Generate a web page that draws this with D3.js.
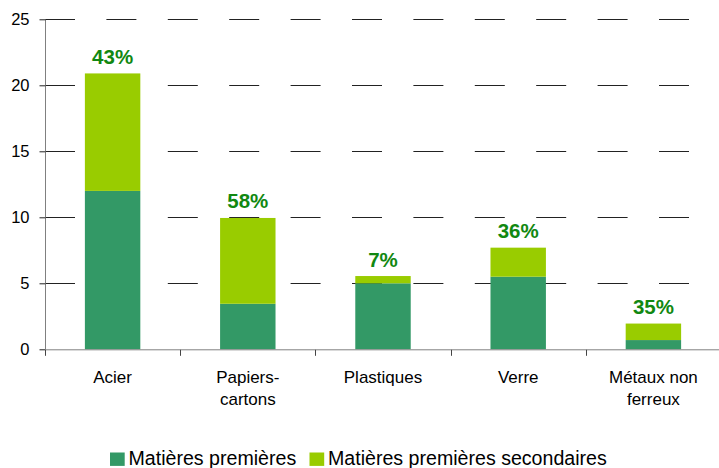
<!DOCTYPE html>
<html><head><meta charset="utf-8">
<script src="https://cdn.jsdelivr.net/npm/d3@7"></script>
<style>body{margin:0;background:#fff}svg{display:block;font-family:"Liberation Sans",Arial,sans-serif}</style>
</head><body><svg id="c" width="719" height="468"></svg>
<script>
const categories = [["Acier"], ["Papiers-", "cartons"], ["Plastiques"], ["Verre"], ["Métaux non", "ferreux"]];
const primaires = [12.0, 3.45, 5.0, 5.5, 0.7];
const secondaires = [8.9, 6.5, 0.55, 2.2, 1.25];
const pctLabels = ["43%", "58%", "7%", "36%", "35%"];
const yTicks = [0, 5, 10, 15, 20, 25];
const seriesNames = ["Matières premières", "Matières premières secondaires"];
const colors = ["#339966", "#99CC00"];

const svg = d3.select("#c");
const mLeft = 45, mRight = 721, mTop = 19.3, mBottom = 349.3;
const keys = categories.map((c, i) => i);
const x = d3.scaleBand().domain(keys).range([mLeft, mRight]).paddingInner(0.59).paddingOuter(0.295);
const y = d3.scaleLinear().domain([0, 25]).range([mBottom, mTop]);

// gridlines
svg.append("g").selectAll("line").data(yTicks.filter(t => t > 0)).join("line")
  .attr("x1", mLeft).attr("x2", mRight)
  .attr("y1", d => Math.round(y(d)) + 0.5).attr("y2", d => Math.round(y(d)) + 0.5)
  .attr("stroke", "#222").attr("stroke-width", 1).attr("stroke-dasharray", "30,31.4");

// bars
const data = keys.map(i => ({i, a: primaires[i], b: secondaires[i]}));
const stack = d3.stack().keys(["a", "b"])(data);
svg.append("g").selectAll("g").data(stack).join("g").attr("fill", (d, k) => colors[k])
  .selectAll("rect").data(d => d).join("rect")
  .attr("x", d => x(d.data.i)).attr("width", x.bandwidth())
  .attr("y", d => y(d[1])).attr("height", d => y(d[0]) - y(d[1]));

// pct labels
svg.append("g").selectAll("text").data(data).join("text")
  .attr("x", d => x(d.i) + x.bandwidth() / 2)
  .attr("y", d => y(d.a + d.b) - 9.5)
  .attr("text-anchor", "middle").attr("font-weight", "bold").attr("font-size", 20.5)
  .attr("fill", "#118811").text(d => pctLabels[d.i]);

// y axis
const ya = d3.axisLeft(y).tickValues(yTicks).tickSize(6).tickPadding(10);
const yg = svg.append("g").attr("transform", `translate(${mLeft + 0.5},0)`).call(ya);
yg.select(".domain").attr("stroke", "#808080").attr("d", `M0,${mTop}V${mBottom}`);
yg.selectAll(".tick line").attr("stroke", "#222");
yg.selectAll(".tick text").attr("font-size", 16.5).attr("fill", "#000").attr("font-family", "Liberation Sans, Arial, sans-serif");

// x axis
const xb = d3.scaleLinear().domain([0, 5]).range([mLeft, mRight]);
const xg = svg.append("g").attr("transform", `translate(0,${mBottom + 0.5})`);
xg.append("line").attr("x1", mLeft).attr("x2", mRight).attr("stroke", "#808080");
xg.selectAll("line.t").data(d3.range(0, 6)).join("line").attr("class", "t")
  .attr("x1", d => Math.round(xb(d)) + 0.5).attr("x2", d => Math.round(xb(d)) + 0.5)
  .attr("y1", 0).attr("y2", 6).attr("stroke", "#444");
const cl = svg.append("g").selectAll("text").data(keys).join("text")
  .attr("x", i => x(i) + x.bandwidth() / 2).attr("y", 383)
  .attr("text-anchor", "middle").attr("font-size", 17).attr("fill", "#000");
cl.selectAll("tspan").data(i => categories[i]).join("tspan")
  .attr("x", function() { return this.parentNode.getAttribute("x"); })
  .attr("dy", (d, j) => j === 0 ? 0 : 22).text(d => d);

// legend
const lg = svg.append("g");
const legX = [110, 309.5];
seriesNames.forEach((n, k) => {
  lg.append("rect").attr("x", legX[k]).attr("y", 452.5).attr("width", 14.7).attr("height", 13.4).attr("fill", colors[k]);
  lg.append("text").attr("x", legX[k] + 18.5).attr("y", 464.5).attr("font-size", 19.6).attr("fill", "#000").text(n);
});
</script></body></html>
